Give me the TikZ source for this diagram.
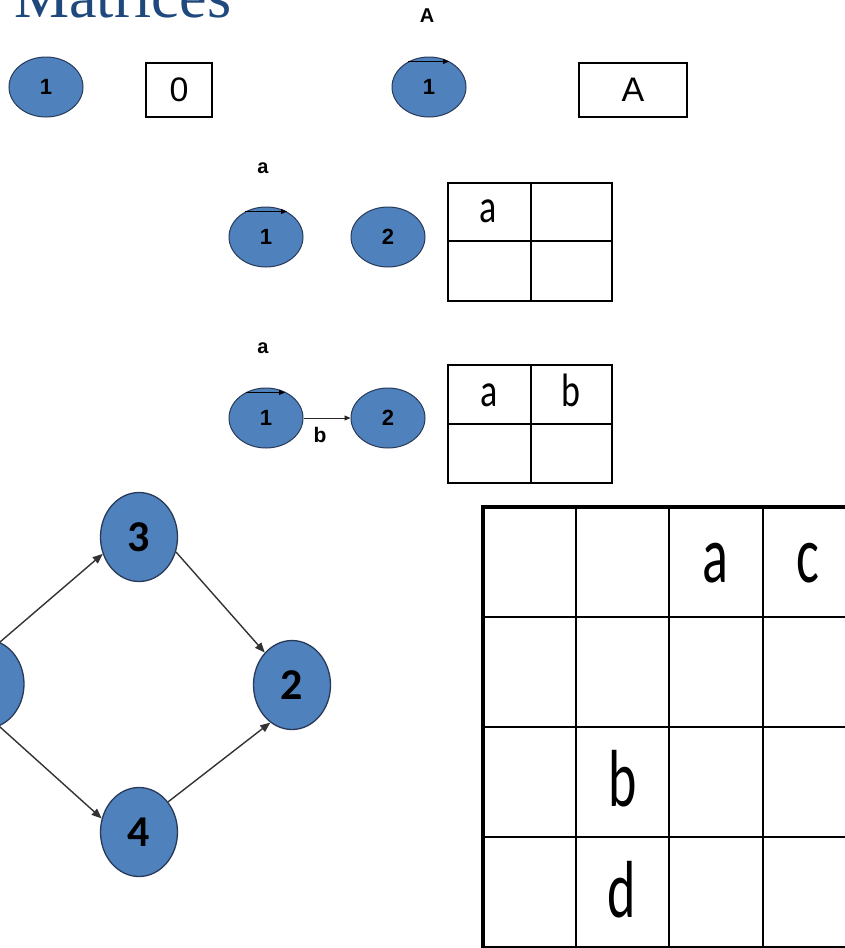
\documentclass[tikz,border=0pt]{standalone}
\usepackage{fontspec}
\setmainfont{Liberation Sans}
\newfontfamily\titlefont{Liberation Serif}
\newfontfamily\califont{Carlito}
\usetikzlibrary{shapes.geometric,arrows.meta}

\definecolor{nodeblue}{RGB}{79,129,189}
\definecolor{nodeedge}{RGB}{40,58,88}
\definecolor{titleblue}{RGB}{31,73,125}

\begin{document}
\begin{tikzpicture}[x=1pt,y=-1pt,
  vtx/.style={ellipse, draw=nodeedge, fill=nodeblue, line width=1pt,
    minimum width=74pt, minimum height=60pt, inner sep=0pt,
    font=\fontsize{22}{22}\selectfont\bfseries},
  bigvtx/.style={ellipse, draw=nodeedge, fill=nodeblue, line width=1.3pt,
    minimum width=77pt, minimum height=89pt, inner sep=0pt,
    font=\califont\fontsize{44}{44}\selectfont\bfseries},
  lbl/.style={inner sep=0pt, font=\fontsize{20}{20}\selectfont\bfseries},
  valbox/.style={draw, line width=2.2pt, inner sep=0pt, minimum height=54pt,
    font=\fontsize{34}{34}\selectfont},
  cell/.style={inner sep=0pt, anchor=base, font=\califont\fontsize{36}{36}\selectfont},
  bigcell/.style={inner sep=0pt, font=\califont\fontsize{54}{54}\selectfont},
  loopedge/.style={-{Triangle[length=6pt,width=5pt]}, line width=1pt},
  edge/.style={-{Triangle[length=6pt,width=5pt]}, line width=0.9pt, draw=black!85},
  graphedge/.style={-{Triangle[length=10pt,width=8pt]}, line width=1.4pt, draw=black!80}
]
\useasboundingbox (0,0) rectangle (845,948);

% heading
\node[anchor=base west, inner sep=0pt, text=titleblue,
  font=\titlefont\fontsize{62}{62}\selectfont] (title) at (14,17) {Matrices};

% single vertex and empty value
\node[vtx] (s1) at (46,87) {1};
\node[valbox, minimum width=66pt] (zero) at (179,90) {0};

% vertex with a self label A
\node[lbl] (labA) at (427,16) {A};
\node[vtx] (t1) at (429,87) {1};
\coordinate (t1s) at ([shift={(-21,5)}]t1.north);
\coordinate (t1e) at ([shift={(20,5)}]t1.north);
\draw[loopedge] (t1s) -- (t1e);
\node[valbox, minimum width=108pt] (valA) at (633,90) {A};

% two vertices, one self label
\node[lbl] (laba1) at (263,168) {a};
\node[vtx] (u1) at (266,237) {1};
\node[vtx] (u2) at (388,237) {2};
\coordinate (u1s) at ([shift={(-21,5)}]u1.north);
\coordinate (u1e) at ([shift={(21,5)}]u1.north);
\draw[loopedge] (u1s) -- (u1e);
\draw[line width=2.5pt] (448,183) rectangle (612,301);
\draw[line width=1.2pt] (531,183) -- (531,301) (448,241) -- (612,241);
\node[cell] (ua) at (488,222) {\scalebox{1}[1.3]{a}};

% two vertices joined by b
\node[lbl] (laba2) at (263,348) {a};
\node[vtx] (v1) at (266,418) {1};
\node[vtx] (v2) at (388,418) {2};
\coordinate (v1s) at ([shift={(-20,5)}]v1.north);
\coordinate (v1e) at ([shift={(19,5)}]v1.north);
\draw[loopedge] (v1s) -- (v1e);
\draw[edge] (v1) -- (v2);
\node[lbl, font=\fontsize{21}{21}\selectfont\bfseries] (labb) at (320,435) {b};
\draw[line width=2.5pt] (448,365) rectangle (612,483);
\draw[line width=1.2pt] (531,365) -- (531,483) (448,424) -- (612,424);
\node[cell] (va) at (489,406) {\scalebox{1}[1.3]{a}};
\node[cell] (vb) at (571,406) {\scalebox{1}[1.3]{b}};

% four-vertex graph
\node[bigvtx] (g1) at (-14.5,684) {1};
\node[bigvtx] (g3) at (139,537) {3};
\node[bigvtx] (g2) at (292,685) {2};
\node[bigvtx] (g4) at (139,832) {4};
\draw[graphedge] (g1.71) -- (g3.205);
\draw[graphedge] (g3.338) -- (g2.130);
\draw[graphedge] (g1.288) -- (g4.160);
\draw[graphedge] (g4.46) -- (g2.240);

% adjacency grid
\draw[line width=1.8pt]
  (576,507) -- (576,948) (669,507) -- (669,948) (763,507) -- (763,948)
  (483,617) -- (860,617) (483,727) -- (860,727) (483,837) -- (860,837);
\draw[line width=3pt] (483,947) -- (860,947);
\draw[line width=4pt] (483,950) -- (483,507) -- (860,507);
\node[bigcell] (ma) at (715,563) {\scalebox{1}[1.5]{a}};
\node[bigcell] (mc) at (808,563) {\scalebox{1}[1.5]{c}};
\node[bigcell] (mb) at (623,779) {\scalebox{1}[1.5]{b}};
\node[bigcell] (md) at (622,890) {\scalebox{1}[1.5]{d}};
\end{tikzpicture}
\end{document}
